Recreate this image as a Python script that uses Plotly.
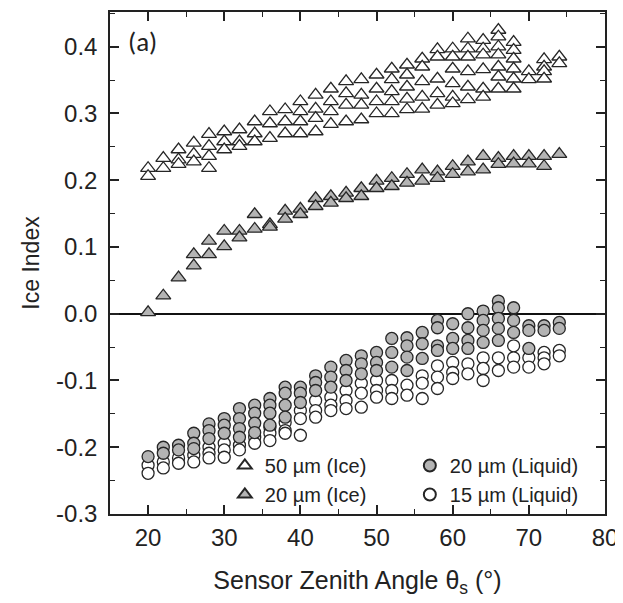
import plotly.graph_objects as go

# ---------------- data ----------------
angles = [20, 22, 24, 26, 28, 30, 32, 34, 36, 38, 40, 42, 44, 46, 48,
          50, 52, 54, 56, 58, 60, 62, 64, 66, 68, 70, 72, 74]

ice50 = [
    [0.218, 0.206],
    [0.233, 0.218],
    [0.246, 0.231, 0.224],
    [0.256, 0.239, 0.228],
    [0.269, 0.251, 0.236, 0.218],
    [0.273, 0.258, 0.246],
    [0.276, 0.258, 0.251],
    [0.288, 0.270, 0.258],
    [0.303, 0.285, 0.263],
    [0.306, 0.288, 0.270],
    [0.318, 0.303, 0.288, 0.270],
    [0.328, 0.307, 0.293, 0.273],
    [0.337, 0.318, 0.303, 0.284],
    [0.348, 0.330, 0.313, 0.288],
    [0.351, 0.328, 0.313, 0.291],
    [0.358, 0.337, 0.318, 0.300],
    [0.367, 0.351, 0.333, 0.318, 0.300],
    [0.373, 0.358, 0.340, 0.322, 0.306],
    [0.382, 0.370, 0.348, 0.325, 0.307],
    [0.396, 0.385, 0.352, 0.330, 0.313],
    [0.397, 0.385, 0.367, 0.345, 0.325, 0.315],
    [0.412, 0.397, 0.385, 0.363, 0.340, 0.321],
    [0.410, 0.397, 0.388, 0.366, 0.337, 0.325],
    [0.425, 0.415, 0.400, 0.388, 0.370, 0.355, 0.337],
    [0.407, 0.395, 0.382, 0.367, 0.352, 0.337],
    [0.363, 0.351],
    [0.381, 0.370, 0.363, 0.352],
    [0.385, 0.375],
]

ice20 = [
    [0.002],
    [0.027],
    [0.054],
    [0.089, 0.072],
    [0.109, 0.089],
    [0.124, 0.101],
    [0.124, 0.114],
    [0.149, 0.127],
    [0.134, 0.130],
    [0.154, 0.142],
    [0.157, 0.149],
    [0.173, 0.161],
    [0.176, 0.166],
    [0.181, 0.173],
    [0.188, 0.176],
    [0.199, 0.188],
    [0.203, 0.191],
    [0.209, 0.196],
    [0.216, 0.199],
    [0.213, 0.203],
    [0.221, 0.209],
    [0.228, 0.213],
    [0.236, 0.216],
    [0.233, 0.224],
    [0.236, 0.225],
    [0.236, 0.225],
    [0.236, 0.221],
    [0.239],
]

liq20 = [
    [-0.214],
    [-0.200, -0.209],
    [-0.197, -0.204],
    [-0.179, -0.194, -0.202],
    [-0.165, -0.175, -0.187],
    [-0.157, -0.167, -0.179],
    [-0.142, -0.157, -0.172, -0.185],
    [-0.137, -0.149, -0.164, -0.178],
    [-0.127, -0.137, -0.149, -0.167],
    [-0.110, -0.119, -0.137, -0.155],
    [-0.110, -0.119, -0.133],
    [-0.093, -0.103, -0.115],
    [-0.080, -0.095, -0.110],
    [-0.070, -0.085, -0.100],
    [-0.063, -0.075, -0.090],
    [-0.058, -0.073, -0.085],
    [-0.037, -0.058, -0.080],
    [-0.036, -0.048, -0.065, -0.085],
    [-0.028, -0.045, -0.067],
    [-0.010, -0.021, -0.048, -0.055],
    [-0.015, -0.037, -0.052],
    [0.000, -0.021, -0.040, -0.052],
    [0.004, -0.010, -0.025, -0.043],
    [0.019, 0.009, -0.007, -0.022, -0.040],
    [0.009, -0.010, -0.028],
    [-0.018, -0.025, -0.052],
    [-0.018, -0.025],
    [-0.013, -0.022],
]

liq15 = [
    [-0.227, -0.239],
    [-0.222, -0.231],
    [-0.216, -0.224],
    [-0.212, -0.222],
    [-0.200, -0.209, -0.216],
    [-0.194, -0.204, -0.215],
    [-0.197, -0.204],
    [-0.185, -0.194],
    [-0.170, -0.179, -0.190],
    [-0.163, -0.175, -0.179],
    [-0.145, -0.157, -0.182],
    [-0.130, -0.145, -0.155],
    [-0.125, -0.137, -0.145],
    [-0.115, -0.130, -0.142],
    [-0.104, -0.119, -0.140],
    [-0.100, -0.115, -0.125],
    [-0.100, -0.115, -0.127],
    [-0.107, -0.122],
    [-0.093, -0.104, -0.127],
    [-0.078, -0.095, -0.112],
    [-0.073, -0.088, -0.097],
    [-0.075, -0.090],
    [-0.066, -0.082, -0.100],
    [-0.066, -0.085],
    [-0.048, -0.066, -0.080],
    [-0.066, -0.080],
    [-0.058, -0.066, -0.075],
    [-0.055, -0.063],
]

y_tickvals = [-0.3, -0.2, -0.1, 0.0, 0.1, 0.2, 0.3, 0.4]
y_ticktext = ["-0.3", "-0.2", "-0.1", "0.0", "0.1", "0.2", "0.3", "0.4"]
x_tickvals = [20, 30, 40, 50, 60, 70, 80]


def flatten(groups):
    xs, ys = [], []
    for a, vals in zip(angles, groups):
        for v in vals:
            xs.append(a)
            ys.append(v)
    return xs, ys


GRAY = "#b4b4b4"
EDGE = "#262626"
FONT = "Liberation Sans, Arial, sans-serif"
TXT = "#222"

fig = go.Figure()

series = [
    ("50 µm (Ice)", ice50, "triangle-up", "white", 1, 13),
    ("20 µm (Ice)", ice20, "triangle-up", GRAY, 3, 13),
    ("15 µm (Liquid)", liq15, "circle", "white", 4, 12),
    ("20 µm (Liquid)", liq20, "circle", GRAY, 2, 12),
]
for name, data, sym, fill, rank, size in series:
    xs, ys = flatten(data)
    fig.add_trace(go.Scatter(
        x=xs, y=ys, mode="markers", name=name, legendrank=rank,
        marker=dict(symbol=sym, color=fill, size=size,
                    line=dict(color=EDGE, width=1.3)),
    ))

axis_common = dict(
    showline=True, linecolor=TXT, linewidth=1.5, mirror="ticks",
    ticks="inside", ticklen=9, tickwidth=1.5, tickcolor=TXT,
    showgrid=False,
    tickfont=dict(family=FONT, size=24, color=TXT),
)

fig.update_xaxes(
    range=[15, 80], tickvals=x_tickvals,
    minor=dict(ticks="inside", ticklen=5, tickwidth=1.3, tickcolor=TXT,
               dtick=5, tick0=0, showgrid=False),
    zeroline=False,
    title=dict(text="Sensor Zenith Angle θ<sub>s</sub> (°)",
               font=dict(family=FONT, size=25, color=TXT), standoff=22),
    ticklabelstandoff=1,
    **axis_common,
)
fig.update_yaxes(
    range=[-0.3, 0.452], tickvals=y_tickvals, ticktext=y_ticktext,
    minor=dict(ticks="inside", ticklen=5, tickwidth=1.3, tickcolor=TXT,
               dtick=0.05, tick0=0, showgrid=False),
    zeroline=True, zerolinecolor="#111", zerolinewidth=2,
    title=dict(text="Ice Index", font=dict(family=FONT, size=23, color=TXT),
               standoff=10),
    ticklabelstandoff=6,
    **axis_common,
)

fig.add_annotation(
    text="(a)", xref="paper", yref="paper", x=0.032, y=0.978,
    xanchor="left", yanchor="top", showarrow=False,
    font=dict(family="Carlito, Liberation Sans, sans-serif", size=27, color=TXT),
)

fig.update_layout(
    width=615, height=595,
    margin=dict(l=102, r=18, t=2, b=89),
    paper_bgcolor="white", plot_bgcolor="white",
    showlegend=True,
    legend=dict(
        orientation="h", x=0.232, y=0.0, xanchor="left", yanchor="bottom",
        entrywidth=140, entrywidthmode="pixels",
        font=dict(family=FONT, size=20, color=TXT),
        bgcolor="rgba(0,0,0,0)", itemsizing="constant",
        traceorder="normal",
    ),
)

fig.write_html("out.html")
